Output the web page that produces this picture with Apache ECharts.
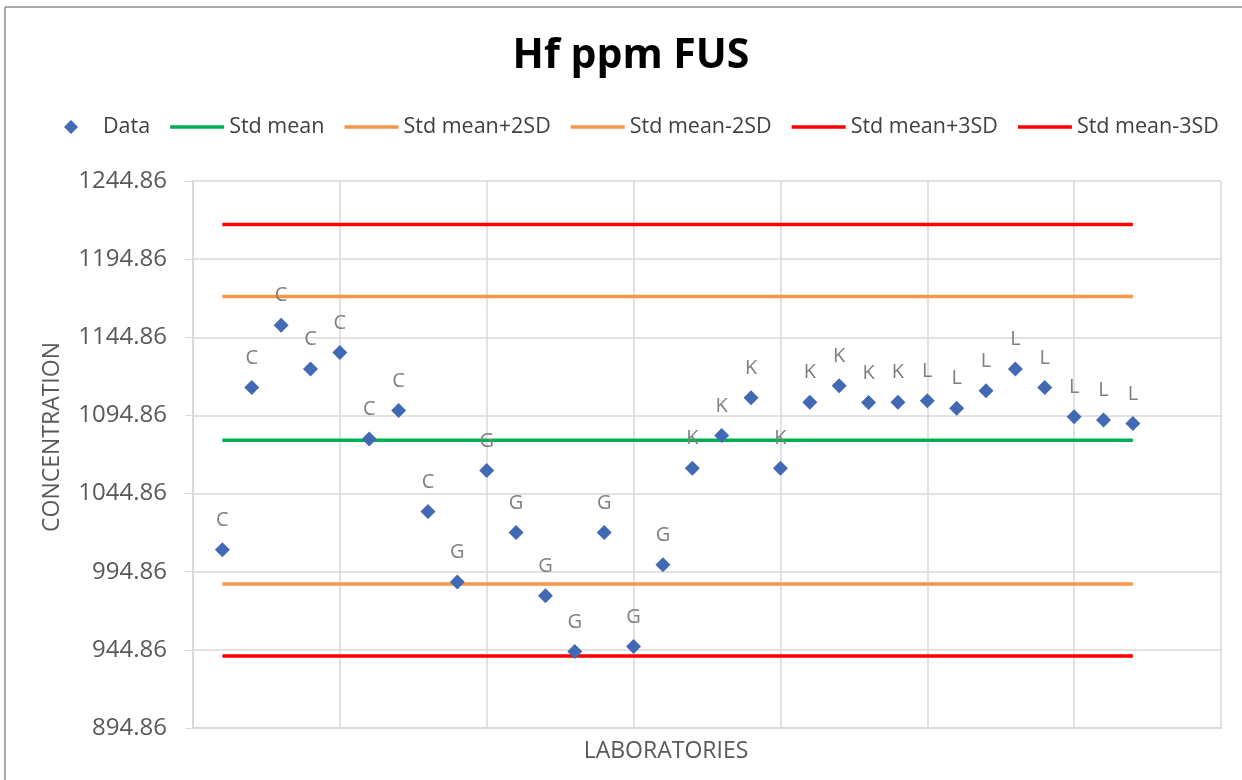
<!DOCTYPE html>
<html>
<head>
<meta charset="utf-8">
<style>
    html, body { margin: 0; padding: 0; background: #fff; }
    #chart { width: 1242px; height: 780px; }
</style>
</head>
<body>
<div id="chart"></div>
<script src="https://cdn.jsdelivr.net/npm/echarts@6/dist/echarts.min.js"></script>
<script>
    // laboratory code for each result
    var labs = ['C', 'C', 'C', 'C', 'C', 'C', 'C', 'C',
                'G', 'G', 'G', 'G', 'G', 'G', 'G', 'G',
                'K', 'K', 'K', 'K', 'K', 'K', 'K', 'K',
                'L', 'L', 'L', 'L', 'L', 'L', 'L', 'L'];
    // Hf results (ppm)
    var values = [1008.9, 1112.7, 1152.6, 1124.6, 1135.1, 1079.7, 1098.0, 1033.4,
                  988.2, 1059.6, 1019.9, 979.5, 943.8, 1019.9, 947.0, 999.3,
                  1061.1, 1082.0, 1106.1, 1061.1, 1103.3, 1113.8, 1103.1, 1103.3,
                  1104.2, 1099.5, 1110.6, 1124.6, 1112.7, 1094.0, 1092.0, 1089.7];
    // control limits
    var limitNames = ['Std mean', 'Std mean+2SD', 'Std mean-2SD', 'Std mean+3SD', 'Std mean-3SD'];
    var limitValues = [1079.0, 1171.0, 987.0, 1217.0, 941.0];
    var limitColors = ['#00B050', '#F79646', '#F79646', '#FF0000', '#FF0000'];
    var yTicks = [894.86, 944.86, 994.86, 1044.86, 1094.86, 1144.86, 1194.86, 1244.86];

    var font = '"Open Sans", Lato, sans-serif';
    var dataColor = '#4169B4';
    // legend icons: a thin bar for the limit lines, a small diamond for the data
    var lineIcon = 'path://M0,0 L54,0 L54,3.5 L0,3.5 Z';
    var diamondIcon = 'path://M7,0 L14,7 L7,14 L0,7 Z';

    var scatterData = values.map(function (v, i) { return [i + 1, v]; });

    var series = [{
        name: 'Data',
        type: 'scatter',
        symbol: 'diamond',
        symbolSize: 15,
        z: 5,
        itemStyle: { color: dataColor, opacity: 1 },
        label: {
            show: true,
            position: 'top',
            distance: 12,
            color: '#7f7f7f',
            fontSize: 20,
            fontFamily: font,
            formatter: function (p) { return labs[p.dataIndex]; }
        },
        data: scatterData
    }];

    var legendData = [{ name: 'Data', icon: diamondIcon, itemStyle: { opacity: 1 } }];

    limitNames.forEach(function (name, k) {
        series.push({
            name: name,
            type: 'line',
            symbol: 'none',
            z: 2,
            lineStyle: { color: limitColors[k], width: 3.5 },
            itemStyle: { color: limitColors[k] },
            data: [[1, limitValues[k]], [values.length, limitValues[k]]]
        });
        legendData.push({ name: name, icon: lineIcon });
    });

    var myChart = echarts.init(document.getElementById('chart'));
    var option = {
        animation: false,
        backgroundColor: '#fff',
        title: {
            text: 'Hf ppm FUS',
            left: 626,
            top: 31,
            textAlign: 'center',
            textStyle: { fontFamily: font, fontSize: 41, fontWeight: 'bold', color: '#000' }
        },
        legend: {
            top: 116,
            left: 64,
            width: 1178,
            padding: 0,
            itemWidth: 54,
            itemHeight: 14,
            itemGap: 20,
            symbolKeepAspect: true,
            textStyle: { fontFamily: font, fontSize: 21.5, color: '#404040' },
            data: legendData
        },
        grid: { left: 193, right: 21, top: 181, bottom: 52 },
        xAxis: {
            type: 'value',
            min: 0,
            max: 35,
            interval: 5,
            axisLabel: { show: false },
            axisTick: { show: false },
            axisLine: { show: true, lineStyle: { color: '#d9d9d9', width: 2 } },
            splitLine: { show: true, lineStyle: { color: '#d9d9d9', width: 1.5 } }
        },
        yAxis: {
            type: 'value',
            min: yTicks[0],
            max: yTicks[yTicks.length - 1],
            interval: 50,
            axisLine: { show: true, lineStyle: { color: '#d9d9d9', width: 2 } },
            axisTick: { show: true, length: 8, lineStyle: { color: '#d9d9d9' } },
            axisLabel: {
                margin: 26,
                color: '#595959',
                fontSize: 24,
                fontFamily: font,
                formatter: function (v) { return v.toFixed(2); }
            },
            splitLine: { show: true, lineStyle: { color: '#d9d9d9', width: 1.5 } }
        },
        graphic: [
            { type: 'line', shape: { x1: 5, y1: 7, x2: 1242, y2: 7 }, style: { stroke: '#8c8c8c', lineWidth: 1.5 } },
            { type: 'line', shape: { x1: 5, y1: 7, x2: 5, y2: 780 }, style: { stroke: '#8c8c8c', lineWidth: 1.5 } },
            {
                type: 'text', x: 52, y: 437, rotation: Math.PI / 2,
                style: { text: 'CONCENTRATION', fill: '#595959', font: '23px ' + font, textAlign: 'center', textVerticalAlign: 'middle' }
            },
            {
                type: 'text', x: 666, y: 751,
                style: { text: 'LABORATORIES', fill: '#595959', font: '23px ' + font, textAlign: 'center', textVerticalAlign: 'middle' }
            }
        ],
        series: series
    };
    myChart.setOption(option);
</script>
</body>
</html>
